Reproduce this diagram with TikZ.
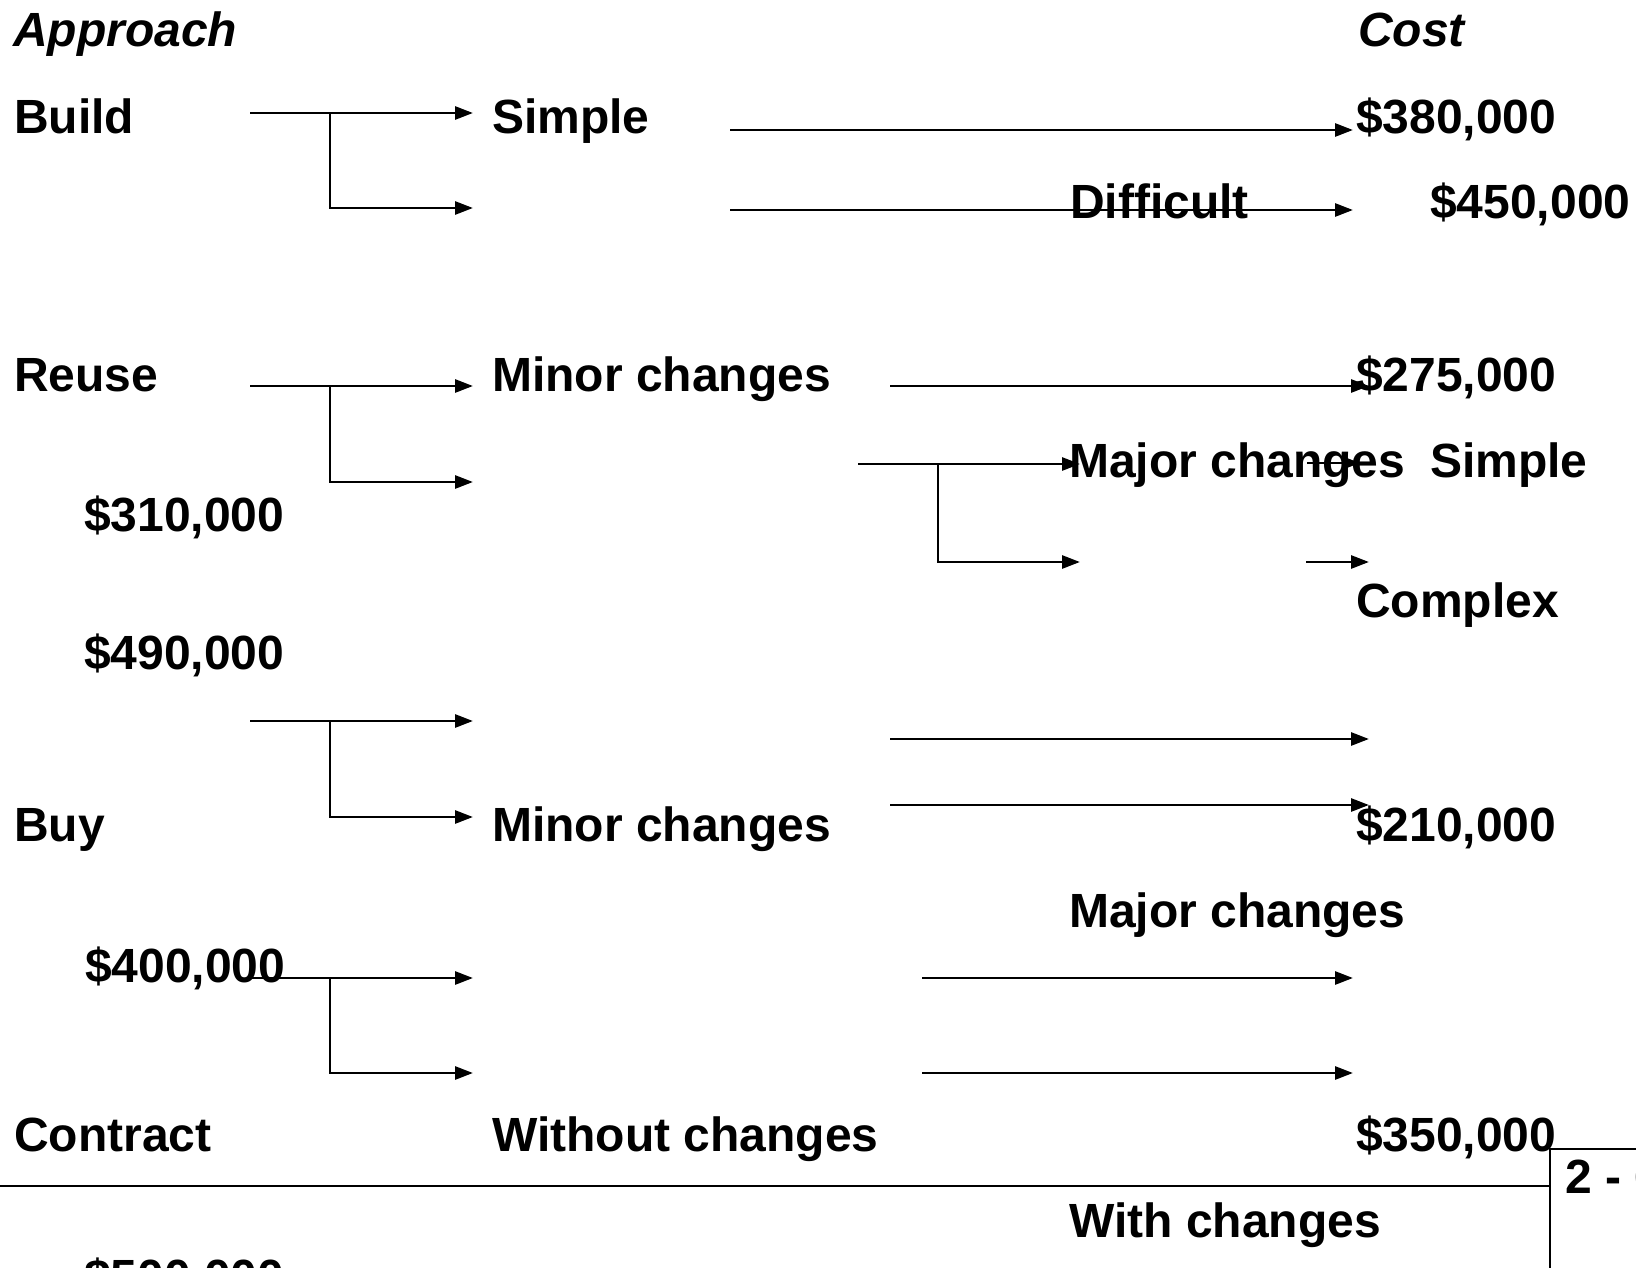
\documentclass[tikz,border=0pt]{standalone}
\usepackage{fontspec}
\setmainfont{Liberation Sans}
\usetikzlibrary{arrows.meta}

\tikzset{
  lbl/.style={anchor=base west, inner sep=0pt, font=\fontsize{48}{58}\selectfont\bfseries},
  hd/.style={lbl, font=\fontsize{48}{58}\selectfont\bfseries\itshape},
  link/.style={line width=2.8pt, -{Triangle[length=18pt,width=13pt]}},
  rule/.style={line width=2.8pt},
}

\begin{document}
\begin{tikzpicture}[x=1pt, y=-1pt]
  \useasboundingbox (0,0) rectangle (1636,1268);
  \clip (0,0) rectangle (1636,1268);

  % column heads
  \node[hd] (approach) at (13,47) {Approach};
  \node[hd] (cost) at (1358,47) {Cost};

  % texts
  \node[lbl] (build) at (14,134) {Build};
  \node[lbl] (simple) at (492,134) {Simple};
  \node[lbl] (c380) at (1356,134) {\$380,000};
  \node[lbl] (difficult) at (1070,219) {Difficult};
  \node[lbl] (c450) at (1430,219) {\$450,000};
  \node[lbl] (reuse) at (14,391) {Reuse};
  \node[lbl] (minor1) at (492,391) {Minor changes};
  \node[lbl] (c275) at (1356,391) {\$275,000};
  \node[lbl] (major1) at (1069,477) {Major changes};
  \node[lbl] (simple2) at (1430,477) {Simple};
  \node[lbl] (c310) at (84,531) {\$310,000};
  \node[lbl] (complex) at (1356,617) {Complex};
  \node[lbl] (c490) at (84,669) {\$490,000};
  \node[lbl] (buy) at (14,841) {Buy};
  \node[lbl] (minor2) at (492,841) {Minor changes};
  \node[lbl] (c210) at (1356,841) {\$210,000};
  \node[lbl] (major2) at (1069,927) {Major changes};
  \node[lbl] (c400) at (85,982) {\$400,000};
  \node[lbl] (contract) at (14,1151) {Contract};
  \node[lbl] (without) at (492,1151) {Without changes};
  \node[lbl] (c350) at (1356,1151) {\$350,000};
  \node[lbl] (withch) at (1069,1237) {With changes};
  \node[lbl] (c500) at (84,1293) {\$500,000};
  \node[lbl] (slide) at (1565,1193) {2 - 6};

  % forks
  \coordinate (bin) at (250,113);
  \coordinate (bfork) at (330,113);
  \coordinate (bup) at (473,113);
  \coordinate (bdown) at (473,208);
  \coordinate (rin) at (250,386);
  \coordinate (rfork) at (330,386);
  \coordinate (rup) at (473,386);
  \coordinate (rdown) at (473,482);
  \coordinate (yin) at (250,721);
  \coordinate (yfork) at (330,721);
  \coordinate (yup) at (473,721);
  \coordinate (ydown) at (473,817);
  \coordinate (cin) at (250,978);
  \coordinate (cfork) at (330,978);
  \coordinate (cup) at (473,978);
  \coordinate (cdown) at (473,1073);
  \coordinate (min) at (858,464);
  \coordinate (mfork) at (938,464);
  \coordinate (mup) at (1080,464);
  \coordinate (mdown) at (1080,562);

  \draw[link] (bin) -- (bup);
  \draw[link] (bfork) |- (bdown);
  \draw[link] (rin) -- (rup);
  \draw[link] (rfork) |- (rdown);
  \draw[link] (yin) -- (yup);
  \draw[link] (yfork) |- (ydown);
  \draw[link] (cin) -- (cup);
  \draw[link] (cfork) |- (cdown);
  \draw[link] (min) -- (mup);
  \draw[link] (mfork) |- (mdown);

  % long arrows
  \coordinate (s1) at (730,130);
  \coordinate (e1) at (1353,130);
  \coordinate (s2) at (730,210);
  \coordinate (e2) at (1353,210);
  \coordinate (s3) at (890,386);
  \coordinate (e3) at (1369,386);
  \coordinate (s4) at (1307,463);
  \coordinate (e4) at (1360,463);
  \coordinate (s5) at (1306,562);
  \coordinate (e5) at (1369,562);
  \coordinate (s6) at (890,739);
  \coordinate (e6) at (1369,739);
  \coordinate (s7) at (890,805);
  \coordinate (e7) at (1369,805);
  \coordinate (s8) at (922,978);
  \coordinate (e8) at (1353,978);
  \coordinate (s9) at (922,1073);
  \coordinate (e9) at (1353,1073);

  \draw[link] (s1) -- (e1);
  \draw[link] (s2) -- (e2);
  \draw[link] (s3) -- (e3);
  \draw[link] (s4) -- (e4);
  \draw[link] (s5) -- (e5);
  \draw[link] (s6) -- (e6);
  \draw[link] (s7) -- (e7);
  \draw[link] (s8) -- (e8);
  \draw[link] (s9) -- (e9);

  % footer
  \coordinate (fl) at (0,1186);
  \coordinate (fm) at (1550,1186);
  \coordinate (fb) at (1550,1268);
  \coordinate (ft) at (1550,1149);
  \coordinate (fr) at (1636,1149);
  \draw[rule] (fl) -- (fm);
  \draw[rule] (fb) -- (ft) -- (fr);
\end{tikzpicture}
\end{document}
